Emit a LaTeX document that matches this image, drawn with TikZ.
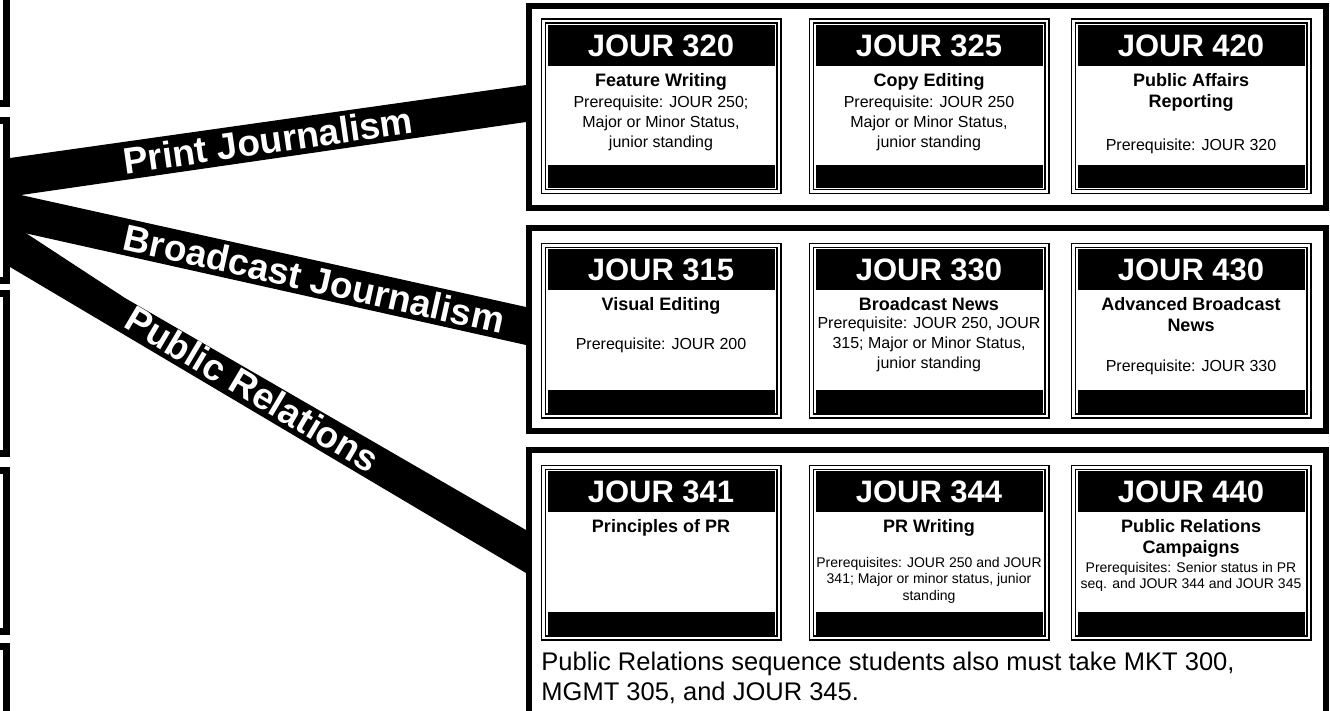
\documentclass[tikz,border=0pt]{standalone}
\usepackage{fontspec}
\setmainfont{Liberation Sans}
\usepackage{tikz}
\usetikzlibrary{calc}
\usetikzlibrary{positioning}

\begin{document}
\begin{tikzpicture}[x=1pt, y=-1pt, node distance=5pt]
% Define styles
\tikzstyle{sidebox} = [rectangle, draw=black, line width=7pt, minimum width=200pt, inner sep=0pt]
\tikzstyle{trackbox} = [rectangle, draw=black, line width=6pt, minimum width=797pt, inner sep=0pt]
\tikzstyle{course} = [rectangle, draw=black, line width=1.5pt, double=white, double distance=2.5pt, minimum width=235.5pt, minimum height=170.5pt, inner sep=0pt, outer sep=0pt]
\tikzstyle{coursehead} = [rectangle, fill=black, text=white, minimum width=227pt, minimum height=41pt, inner sep=0pt, font=\bfseries\fontsize{31}{31}\selectfont]
\tikzstyle{coursefoot} = [rectangle, fill=black, minimum width=227pt, minimum height=23pt, inner sep=0pt]
\tikzstyle{coursetitle} = [align=center, inner sep=0pt, font=\bfseries\fontsize{18}{21}\selectfont]
\tikzstyle{prereq} = [align=center, inner sep=0pt, font=\fontsize{16}{20}\selectfont]
\tikzstyle{prsmall} = [align=center, inner sep=0pt, font=\fontsize{14}{16.5}\selectfont]
\tikzstyle{band} = [fill=black]
\tikzstyle{bandtext} = [text=white, sloped, inner sep=0pt, font=\bfseries\fontsize{37}{37}\selectfont]
\clip (0,0) rectangle (1330,710);
\fill[white] (0,0) rectangle (1330,710);
% Place nodes
\node (b1) [sidebox, minimum height=203.5pt] at (-93.5,1.75) {};
\node (b2) [sidebox, minimum height=160pt] at (-93.5,200) {};
\node (b3) [sidebox, minimum height=160pt] at (-93.5,373) {};
\node (b4) [sidebox, minimum height=160.5pt] at (-93.5,550.75) {};
\node (b5) [sidebox, minimum height=253pt] at (-93.5,773) {};
\node (print) [trackbox, minimum height=202pt] at (927.5,107) {};
\node (broadcast) [trackbox, minimum height=203pt] at (927.5,329.5) {};
\node (pr) [trackbox, minimum height=280pt] at (927.5,590) {};
% print journalism
\node (c320) [course] at (661,106) {};
\node (h320) [coursehead, below=4pt of c320.north] {JOUR 320};
\node (t320) [coursetitle, below=7pt of h320] {Feature Writing};
\node (p320) [prereq, below=of t320] {Prerequisite: JOUR 250;\\Major or Minor Status,\\junior standing};
\node (f320) [coursefoot, above=3pt of c320.south] {};
\node (c325) [course] at (929,106) {};
\node (h325) [coursehead, below=4pt of c325.north] {JOUR 325};
\node (t325) [coursetitle, below=7pt of h325] {Copy Editing};
\node (p325) [prereq, below=of t325] {Prerequisite: JOUR 250\\Major or Minor Status,\\junior standing};
\node (f325) [coursefoot, above=3pt of c325.south] {};
\node (c420) [course] at (1191,106) {};
\node (h420) [coursehead, below=4pt of c420.north] {JOUR 420};
\node (t420) [coursetitle, below=7pt of h420] {Public Affairs\\Reporting};
\node (p420) [prereq, below=27pt of t420] {Prerequisite: JOUR 320};
\node (f420) [coursefoot, above=3pt of c420.south] {};
% broadcast journalism
\node (c315) [course] at (661,330.5) {};
\node (h315) [coursehead, below=4pt of c315.north] {JOUR 315};
\node (t315) [coursetitle, below=7pt of h315] {Visual Editing};
\node (p315) [prereq, below=23pt of t315] {Prerequisite: JOUR 200};
\node (f315) [coursefoot, above=3pt of c315.south] {};
\node (c330) [course] at (929,330.5) {};
\node (h330) [coursehead, below=4pt of c330.north] {JOUR 330};
\node (t330) [coursetitle, below=7pt of h330] {Broadcast News};
\node (p330) [prereq, below=of t330] {Prerequisite: JOUR 250, JOUR\\315; Major or Minor Status,\\junior standing};
\node (f330) [coursefoot, above=3pt of c330.south] {};
\node (c430) [course] at (1191,330.5) {};
\node (h430) [coursehead, below=4pt of c430.north] {JOUR 430};
\node (t430) [coursetitle, below=7pt of h430] {Advanced Broadcast\\News};
\node (p430) [prereq, below=27pt of t430] {Prerequisite: JOUR 330};
\node (f430) [coursefoot, above=3pt of c430.south] {};
% public relations
\node (c341) [course] at (661,552.5) {};
\node (h341) [coursehead, below=4pt of c341.north] {JOUR 341};
\node (t341) [coursetitle, below=7pt of h341] {Principles of PR};
\node (f341) [coursefoot, above=3pt of c341.south] {};
\node (c344) [course] at (929,552.5) {};
\node (h344) [coursehead, below=4pt of c344.north] {JOUR 344};
\node (t344) [coursetitle, below=7pt of h344] {PR Writing};
\node (p344) [prsmall, below=20pt of t344] {Prerequisites: JOUR 250 and JOUR\\341; Major or minor status, junior\\standing};
\node (f344) [coursefoot, above=3pt of c344.south] {};
\node (c440) [course] at (1191,552.5) {};
\node (h440) [coursehead, below=4pt of c440.north] {JOUR 440};
\node (t440) [coursetitle, below=7pt of h440] {Public Relations\\Campaigns};
\node (p440) [prsmall, below=4pt of t440] {Prerequisites: Senior status in PR\\seq. and JOUR 344 and JOUR 345};
\node (f440) [coursefoot, above=3pt of c440.south] {};
\node (note) [anchor=north west, inner sep=0pt, align=left, font=\fontsize{25.5}{30}\selectfont] at ($(c341.south west)+(-2,14.5)$) {Public Relations sequence students also must take MKT 300,\\MGMT 305, and JOUR 345.};
% Draw bands
\fill[band] ($(b2.east)+(0,-42)$) -- ($(print.west)+(0,-22)$) -- ($(print.west)+(0,15)$) -- ($(b2.east)+(0,-3.4)$) -- cycle;
\fill[band] ($(b2.east)+(0,-7.4)$) -- ($(broadcast.west)+(0,-22.5)$) -- ($(broadcast.west)+(0,15.5)$) -- ($(b2.east)+(0,29.8)$) -- cycle;
\fill[band] ($(b2.east)+(0,22.7)$) -- ($(b2.east)+(115,98)$) -- ($(pr.west)+(0,-60)$) -- ($(pr.west)+(0,-17)$) -- ($(b2.east)+(0,67)$) -- cycle;
\path ($(b2.east)+(0,-22.7)$) -- ($(print.west)+(0,-3.5)$) node[bandtext, pos=0.5] {Print Journalism};
\path ($(b2.east)+(0,11.2)$) -- ($(broadcast.west)+(0,-3.5)$) node[bandtext, pos=0.59] {Broadcast Journalism};
\path ($(b2.east)+(0,44.9)$) -- ($(pr.west)+(0,-38.5)$) node[bandtext, pos=0.47] {Public Relations};
\end{tikzpicture}
\end{document}
